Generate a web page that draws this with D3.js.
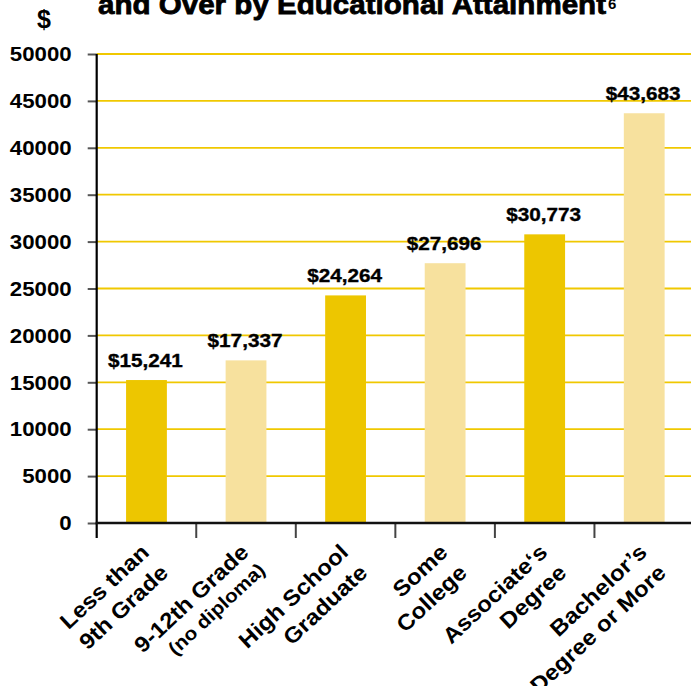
<!DOCTYPE html>
<html>
<head>
<meta charset="utf-8">
<script src="https://cdn.jsdelivr.net/npm/d3@7"></script>
<style>
  html, body { margin: 0; padding: 0; background: #fff; }
  svg { display: block; }
  text { font-family: "Liberation Sans", Arial, Helvetica, sans-serif; font-weight: bold; fill: #000; }
</style>
</head>
<body>
<svg id="chart" width="691" height="686"></svg>
<script>
// ---- data ----
const categories = ["Less than 9th Grade", "9-12th Grade (no diploma)", "High School Graduate", "Some College", "Associate's Degree", "Bachelor's Degree or More"];
const labelLine1 = ["Less than", "9-12th Grade", "High School", "Some", "Associate‘s", "Bachelor’s"];
const labelLine2 = ["9th Grade", "(no diploma)", "Graduate", "College", "Degree", "Degree or More"];
const values = [15241, 17337, 24264, 27696, 30773, 43683];
const yTicks = [0, 5000, 10000, 15000, 20000, 25000, 30000, 35000, 40000, 45000, 50000];
const titleText = "and Over by Educational Attainment";
const titleNote = "6";
const yUnit = "$";

// ---- layout ----
const svg = d3.select("#chart");
const plotLeft = 96.7, plotRight = 694, plotTop = 54, plotBottom = 523;
const darkGold = "#EDC600", lightGold = "#F7E19E", gridGold = "#F0C800";

const x = d3.scaleBand().domain(categories).range([plotLeft, plotRight])
  .paddingInner(0.59).paddingOuter(0.295);
const y = d3.scaleLinear().domain([0, 50000]).range([plotBottom, plotTop]);

function stretch(sel, k) {
  sel.each(function () {
    const L = this.getComputedTextLength();
    d3.select(this).attr("textLength", L * k).attr("lengthAdjust", "spacingAndGlyphs");
  });
}

// gridlines
svg.append("g").selectAll("line").data(yTicks.filter(d => d > 0)).join("line")
  .attr("x1", plotLeft).attr("x2", 691)
  .attr("y1", d => y(d)).attr("y2", d => y(d))
  .attr("stroke", gridGold).attr("stroke-width", 1.8);

// bars
svg.append("g").selectAll("rect").data(values).join("rect")
  .attr("x", (d, i) => x(categories[i]))
  .attr("width", x.bandwidth())
  .attr("y", d => y(d))
  .attr("height", d => y(0) - y(d))
  .attr("fill", (d, i) => i % 2 === 0 ? darkGold : lightGold);

// value labels
const vl = svg.append("g").selectAll("text").data(values).join("text")
  .attr("x", (d, i) => x(categories[i]) + x.bandwidth() / 2 - 1)
  .attr("y", d => y(d) - 13)
  .attr("text-anchor", "middle")
  .attr("font-size", 18)
  .attr("stroke", "#000").attr("stroke-width", 0.35)
  .text(d => "$" + d3.format(",")(d));
stretch(vl, 1.15);

// y axis
const yAxis = svg.append("g").attr("transform", `translate(${plotLeft},0)`)
  .call(d3.axisLeft(y).tickValues(yTicks).tickFormat(d3.format("d")).tickSize(9).tickPadding(16));
yAxis.select(".domain").remove();
yAxis.selectAll(".tick line").attr("stroke", "#555").attr("stroke-width", 2);
const yl = yAxis.selectAll(".tick text").attr("font-size", 21).attr("fill", "#000")
  .style("font-family", "'Liberation Sans', Arial, sans-serif").style("font-weight", "bold");
stretch(yl, 1.06);
svg.append("line").attr("x1", plotLeft).attr("x2", plotLeft)
  .attr("y1", plotTop).attr("y2", plotBottom + 15)
  .attr("stroke", "#000").attr("stroke-width", 2.2);

// x axis
const step = x.step();
const gap = step - x.bandwidth();
svg.append("g").selectAll("line").data(categories.slice(1)).join("line")
  .attr("x1", d => x(d) - gap / 2).attr("x2", d => x(d) - gap / 2)
  .attr("y1", plotBottom).attr("y2", plotBottom + 15)
  .attr("stroke", "#444").attr("stroke-width", 2);
svg.append("line").attr("x1", plotLeft - 1).attr("x2", 691)
  .attr("y1", plotBottom).attr("y2", plotBottom)
  .attr("stroke", "#111").attr("stroke-width", 2.6);

// x labels
const xl = svg.append("g").selectAll("g").data(categories).join("g")
  .attr("transform", d => `translate(${x(d) + x.bandwidth() / 2 + 4},554) rotate(-43)`);
const l1 = xl.append("text").attr("text-anchor", "end").attr("font-size", 22)
  .text((d, i) => labelLine1[i]);
stretch(l1, 1.09);
const l2 = xl.append("text").attr("text-anchor", "end")
  .attr("font-size", (d, i) => labelLine2[i].startsWith("(") ? 19 : 22)
  .attr("y", (d, i) => labelLine2[i].startsWith("(") ? 24 : 28)
  .text((d, i) => labelLine2[i]);
stretch(l2, 1.09);

// unit label
svg.append("text").attr("x", 44).attr("y", 28).attr("text-anchor", "middle")
  .attr("font-size", 25).text(yUnit);

// title (top line clipped off in original)
svg.append("text").attr("x", 98).attr("y", 14).attr("font-size", 28)
  .attr("stroke", "#000").attr("stroke-width", 0.8)
  .attr("textLength", 508).attr("lengthAdjust", "spacingAndGlyphs")
  .text(titleText);
svg.append("text").attr("x", 608).attr("y", 9).attr("font-size", 15).text(titleNote);
</script>
</body>
</html>
